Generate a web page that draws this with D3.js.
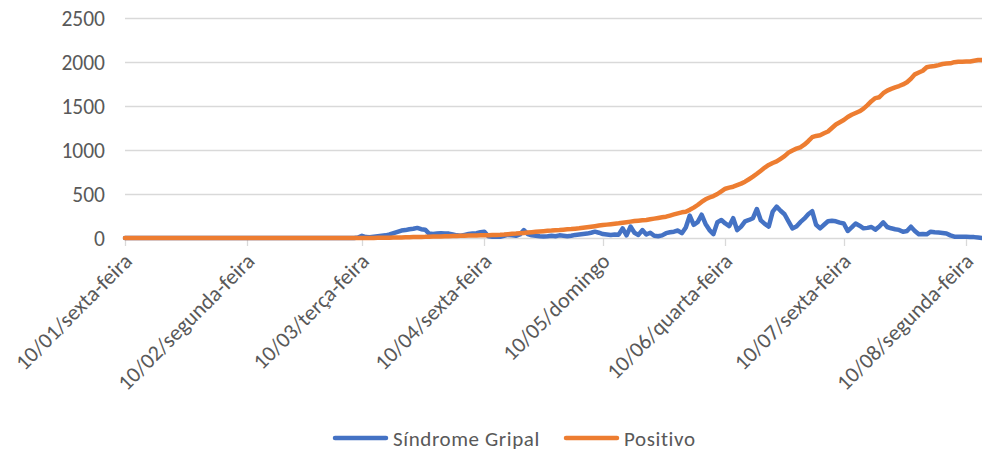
<!DOCTYPE html>
<html>
<head>
<meta charset="utf-8">
<script src="https://cdn.jsdelivr.net/npm/d3@7"></script>
<style>
    body { margin: 0; background: #ffffff; }
    text { font-family: Carlito, Calibri, Lato, sans-serif; fill: #595959; }
</style>
</head>
<body>
<div id="chart"></div>
<script>
// daily series, first day = 10/01/2020
var startDay = new Date(2020, 0, 10);

var seriesNames = ["Síndrome Gripal", "Positivo"];

var sindromeGripal = [
    0,0,0,0,0,0,0,0,0,0,
    0,0,0,0,0,0,0,0,0,0,
    0,0,0,0,0,0,0,0,0,0,
    0,0,0,0,0,0,0,0,0,0,
    0,0,0,0,0,0,0,0,0,0,
    0,0,0,0,0,0,0,0,0,5,
    25,10,8,15,20,25,30,40,55,70,
    85,90,100,105,115,100,95,50,45,50,
    55,52,50,40,30,25,35,45,50,55,
    65,70,20,15,18,15,25,35,30,25,
    40,90,45,30,25,20,18,20,25,20,
    30,25,20,25,35,40,45,50,60,72,
    60,45,40,35,40,38,110,30,130,60,
    35,90,40,60,25,20,30,55,65,72,
    85,55,120,255,150,180,265,160,90,45,
    180,205,165,135,225,90,130,190,205,225,
    330,200,160,130,300,356,310,270,190,110,
    130,180,220,270,305,150,110,150,190,195,
    190,175,165,80,120,165,140,110,115,125,
    95,130,178,125,110,100,92,70,80,128,
    80,42,45,42,72,65,62,58,52,30,
    15,15,15,15,12,10,5,0
];

var positivo = [
    0,0,0,0,0,0,0,0,0,0,
    0,0,0,0,0,0,0,0,0,0,
    0,0,0,0,0,0,0,0,0,0,
    0,0,0,0,0,0,0,0,0,0,
    0,0,0,0,0,0,0,0,0,0,
    0,0,0,0,0,0,0,0,0,0,
    0,0,1,1,2,2,3,4,5,6,
    7,8,9,10,11,12,13,15,16,17,
    18,19,20,22,23,25,26,27,28,29,
    30,31,32,33,34,36,39,43,47,50,
    54,58,62,66,70,74,78,82,84,88,
    91,95,99,102,106,110,116,122,128,134,
    141,148,152,157,162,167,174,180,186,192,
    197,201,205,213,220,228,235,242,255,268,
    280,292,299,320,345,375,410,440,460,477,
    500,530,560,572,583,600,618,640,668,697,
    730,765,800,830,852,870,900,930,970,995,
    1015,1030,1060,1100,1145,1160,1168,1190,1210,1250,
    1290,1315,1340,1375,1400,1420,1440,1470,1510,1555,
    1590,1600,1645,1675,1695,1712,1727,1745,1770,1810,
    1860,1880,1900,1940,1950,1955,1965,1977,1982,1985,
    1998,2004,2004,2005,2006,2015,2022,2024
];

var yTicks = [0, 500, 1000, 1500, 2000, 2500];

var xTickDates = [
    new Date(2020, 0, 10), new Date(2020, 1, 10), new Date(2020, 2, 10), new Date(2020, 3, 10),
    new Date(2020, 4, 10), new Date(2020, 5, 10), new Date(2020, 6, 10), new Date(2020, 7, 10)
];
var xTickLabels = [
    "10/01/sexta-feira", "10/02/segunda-feira", "10/03/terça-feira", "10/04/sexta-feira",
    "10/05/domingo", "10/06/quarta-feira", "10/07/sexta-feira", "10/08/segunda-feira"
];

var colors = ["#4472C4", "#ED7D31"];

function init() {
    var width = 982,
        height = 453;

    var svg = d3.select("div#chart")
        .append("svg")
        .attr("width", width)
        .attr("height", height);

    var dates = sindromeGripal.map(function(v, i) { return d3.timeDay.offset(startDay, i); });

    var x = d3.scaleTime()
        .domain([startDay, dates[dates.length - 1]])
        .range([125, 982]);

    var y = d3.scaleLinear()
        .domain([0, 2500])
        .range([238, 18]);

    // gridlines
    svg.append("g")
        .selectAll("line")
        .data(yTicks)
        .enter().append("line")
            .attr("x1", 125)
            .attr("x2", width)
            .attr("y1", function(d) { return Math.round(y(d)) + 0.5; })
            .attr("y2", function(d) { return Math.round(y(d)) + 0.5; })
            .attr("stroke", "#d9d9d9")
            .attr("stroke-width", 1.3);

    // y labels
    svg.append("g")
        .selectAll("text")
        .data(yTicks)
        .enter().append("text")
            .attr("x", 105)
            .attr("y", function(d) { return y(d); })
            .attr("dy", "0.36em")
            .attr("text-anchor", "end")
            .style("font-size", "21.5px")
            .text(function(d) { return d; });

    // x ticks
    svg.append("g")
        .selectAll("line")
        .data(xTickDates)
        .enter().append("line")
            .attr("x1", function(d) { return Math.round(x(d)) + 0.5; })
            .attr("x2", function(d) { return Math.round(x(d)) + 0.5; })
            .attr("y1", 238)
            .attr("y2", 246)
            .attr("stroke", "#d9d9d9")
            .attr("stroke-width", 1.3);

    svg.append("g")
        .selectAll("text")
        .data(xTickDates)
        .enter().append("text")
            .attr("text-anchor", "end")
            .attr("transform", function(d) { return "translate(" + (x(d) + 3) + ",257) rotate(-45)"; })
            .attr("dy", "0.35em")
            .style("font-size", "22px")
            .text(function(d, i) { return xTickLabels[i]; });

    var line = d3.line()
        .x(function(d) { return x(d[0]); })
        .y(function(d) { return y(d[1]); });

    var series = [sindromeGripal, positivo];

    svg.append("g")
        .selectAll("path")
        .data(series)
        .enter().append("path")
            .attr("d", function(s) { return line(s.map(function(v, i) { return [dates[i], v]; })); })
            .attr("fill", "none")
            .attr("stroke", function(s, i) { return colors[i]; })
            .attr("stroke-width", 4.5)
            .attr("stroke-linejoin", "round")
            .attr("stroke-linecap", "round");

    // legend
    var legendX = [335, 566];
    var legend = svg.append("g")
        .selectAll("g")
        .data(seriesNames)
        .enter().append("g")
            .attr("transform", function(d, i) { return "translate(" + legendX[i] + ",438)"; });

    legend.append("line")
        .attr("x1", 0)
        .attr("x2", 51)
        .attr("stroke", function(d, i) { return colors[i]; })
        .attr("stroke-width", 4.5)
        .attr("stroke-linecap", "round");

    legend.append("text")
        .attr("x", 58)
        .attr("dy", "0.36em")
        .style("font-size", "21px")
        .style("letter-spacing", "0.6px")
        .text(function(d) { return d; });
}

init();
</script>
</body>
</html>
